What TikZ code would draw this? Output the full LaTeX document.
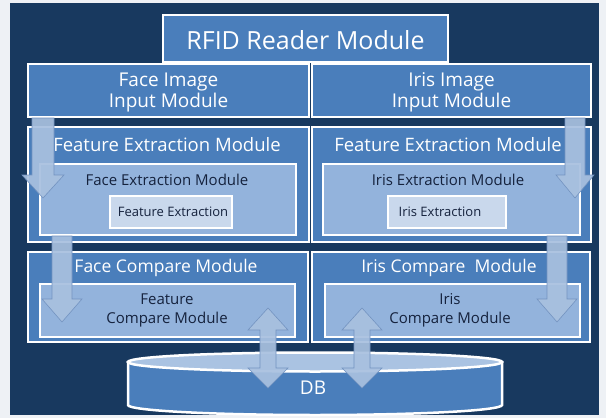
\documentclass[tikz,border=0pt]{standalone}
\usepackage{fontspec}
\setmainfont{Open Sans}
\definecolor{navy}{HTML}{18395F}
\definecolor{midblue}{HTML}{4A7EBB}
\definecolor{lightblue}{HTML}{93B3DC}
\definecolor{paleblue}{HTML}{C9D8EC}
\definecolor{arrowfill}{HTML}{A8C0DF}
\definecolor{arrowedge}{HTML}{7393C0}
\definecolor{darktext}{HTML}{15223D}
\definecolor{pagebg}{HTML}{EEF1F5}
\tikzset{
  outerbox/.style={draw=white, line width=2.5pt, fill=midblue, rectangle, inner sep=0pt},
  innerbox/.style={draw=white, line width=2.5pt, fill=lightblue, rectangle, inner sep=0pt},
  corebox/.style={draw=white, line width=2.5pt, fill=paleblue, rectangle, inner sep=0pt},
  whitetxt/.style={text=white, align=center, inner sep=0pt},
  darktxt/.style={text=darktext, align=center, inner sep=0pt},
  blockarrow/.style={fill=arrowfill, fill opacity=0.93, draw=arrowedge, line width=0.6pt, line join=miter},
}
\newcommand\downarr[5]{% x, ystart, ytip, half shaft, half head
  \draw[blockarrow] (#1-#4,#2) -- (#1-#4,#3-23) -- (#1-#5,#3-23) -- (#1,#3)
    -- (#1+#5,#3-23) -- (#1+#4,#3-23) -- (#1+#4,#2) -- cycle;}
\newcommand\duoarr[5]{% x, ytop tip, ybottom tip, half shaft, half head
  \draw[blockarrow] (#1,#2) -- (#1+#5,#2+22) -- (#1+#4,#2+22) -- (#1+#4,#3-20)
    -- (#1+#5,#3-20) -- (#1,#3) -- (#1-#5,#3-20) -- (#1-#4,#3-20) -- (#1-#4,#2+22)
    -- (#1-#5,#2+22) -- cycle;}
\begin{document}
\begin{tikzpicture}[x=1pt, y=-1pt]
\useasboundingbox (0,0) rectangle (606,418);
\fill[pagebg] (0,0) rectangle (606,418);
\fill[navy] (10,3) rectangle (599,415);

% RFID
\node[outerbox, minimum width=285pt, minimum height=47pt] (rfid) at (305.5,38.5) {};
\node[whitetxt, font=\fontsize{25}{28}\selectfont] (rfidT) at (305.5,40) {RFID Reader Module};

% input modules
\node[outerbox, minimum width=281pt, minimum height=53pt] (faceIn) at (168.5,90.5) {};
\node[whitetxt, font=\fontsize{19}{21}\selectfont] (faceInT) at (168.5,92.5) {Face Image\\Input Module};
\node[outerbox, minimum width=279pt, minimum height=53pt] (irisIn) at (451.5,90.5) {};
\node[whitetxt, font=\fontsize{19}{21}\selectfont] (irisInT) at (451.5,92.5) {Iris Image\\Input Module};

% feature extraction modules
\node[outerbox, minimum width=281pt, minimum height=115pt] (faceFE) at (168.5,184.5) {};
\node[whitetxt, font=\fontsize{18.5}{21}\selectfont] (faceFET) at (167,145) {Feature Extraction Module};
\node[innerbox, minimum width=256pt, minimum height=71pt] (faceFEin) at (168,199.5) {};
\node[darktxt, font=\fontsize{15}{17}\selectfont] (faceFEinT) at (167,180) {Face Extraction Module};
\node[corebox, minimum width=122pt, minimum height=32pt] (faceFEx) at (171,212) {};
\node[darktxt, font=\fontsize{13}{15}\selectfont] (faceFExT) at (173,212) {Feature Extraction};

\node[outerbox, minimum width=279pt, minimum height=115pt] (irisFE) at (451.5,184.5) {};
\node[whitetxt, font=\fontsize{18.5}{21}\selectfont] (irisFET) at (448,145) {Feature Extraction Module};
\node[innerbox, minimum width=257pt, minimum height=71pt] (irisFEin) at (451.5,199.5) {};
\node[darktxt, font=\fontsize{15}{17}\selectfont] (irisFEinT) at (448,180) {Iris Extraction Module};
\node[corebox, minimum width=118pt, minimum height=32pt] (irisFEx) at (447,212) {};
\node[darktxt, font=\fontsize{13}{15}\selectfont] (irisFExT) at (440,212) {Iris Extraction};

% compare modules
\node[outerbox, minimum width=280pt, minimum height=90pt] (faceCmp) at (168,297) {};
\node[whitetxt, font=\fontsize{17.5}{20}\selectfont] (faceCmpT) at (166,268) {Face Compare\ Module};
\node[innerbox, minimum width=255pt, minimum height=53pt] (faceCmpIn) at (167.5,310.5) {};
\node[darktxt, font=\fontsize{15}{19}\selectfont] (faceCmpInT) at (167,310) {Feature\\Compare Module};

\node[outerbox, minimum width=278pt, minimum height=90pt] (irisCmp) at (451,297) {};
\node[whitetxt, font=\fontsize{17.5}{20}\selectfont] (irisCmpT) at (449,268) {Iris Compare\ \ Module};
\node[innerbox, minimum width=255pt, minimum height=53pt] (irisCmpIn) at (452.5,310.5) {};
\node[darktxt, font=\fontsize{15}{19}\selectfont] (irisCmpInT) at (450,310) {Iris\\Compare Module};

% DB cylinder
\draw[draw=white, line width=2.5pt, fill=midblue]
  (128,362) -- (128,405) arc[start angle=180, end angle=0, x radius=187, y radius=10]
  -- (502,362) -- cycle;
\draw[draw=white, line width=2.5pt, fill={rgb,255:red,170;green,195;blue,226}]
  (315,362) ellipse [x radius=187, y radius=9.5];
\node[whitetxt, font=\fontsize{19}{21}\selectfont] (db) at (313,388) {DB};

% block arrows
\downarr{43}{118}{198}{11}{21}
\downarr{575}{118}{198}{10}{19}
\downarr{62}{236}{322}{10}{20}
\downarr{557}{236}{322}{10}{20}
\duoarr{268}{308}{388}{8}{20}
\duoarr{362}{308}{388}{8}{20}
\end{tikzpicture}
\end{document}
